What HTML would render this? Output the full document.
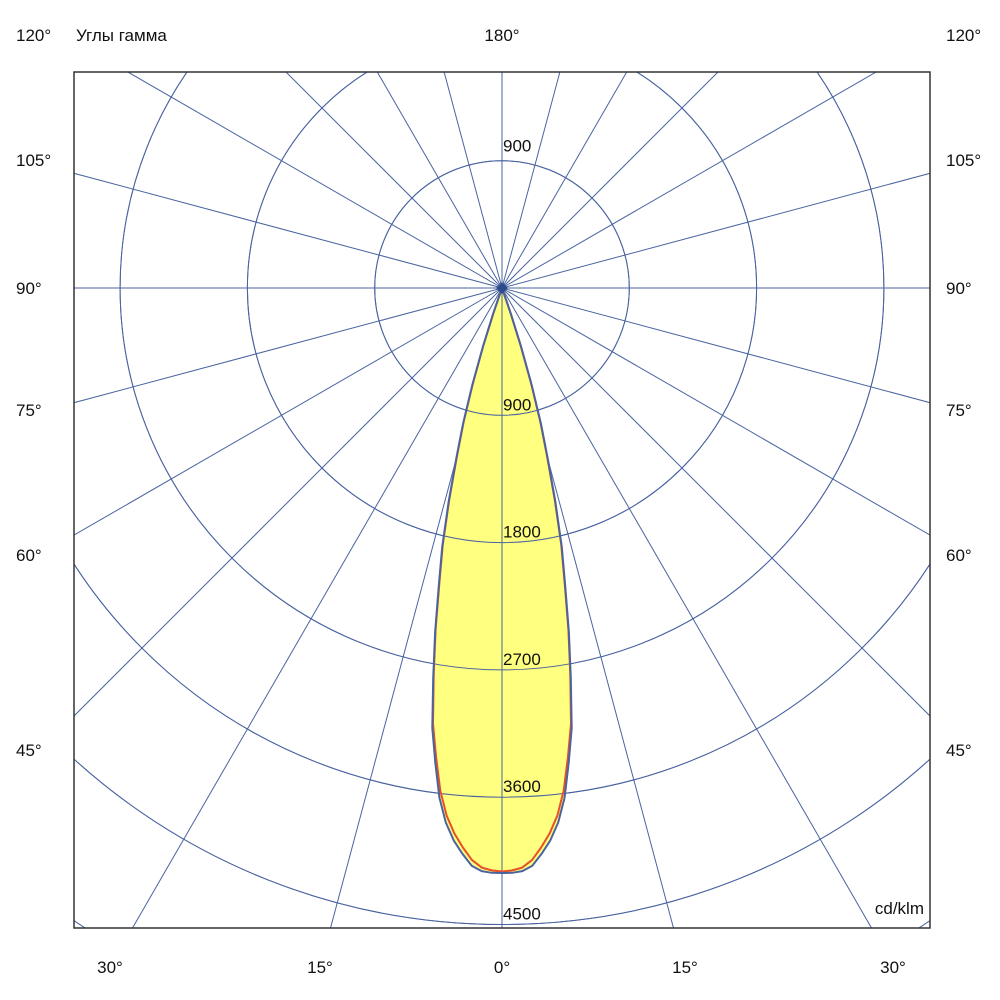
<!DOCTYPE html>
<html><head><meta charset="utf-8"><style>
html,body{margin:0;padding:0;background:#fff;width:1000px;height:1000px;overflow:hidden;}
svg{display:block;font-family:"Liberation Sans","Noto Sans CJK SC",sans-serif;}
</style></head><body>
<svg id="chart" width="1000" height="1000" viewBox="0 0 1000 1000">
<defs><clipPath id="box"><rect x="74" y="72" width="856" height="856"/></clipPath></defs>
<g id="grid" clip-path="url(#box)"></g>
<g id="series" clip-path="url(#box)"></g>
<rect x="74" y="72" width="856" height="856" fill="none" stroke="#333" stroke-width="1.5"/>
<g id="labels" font-size="17" fill="#111"></g>
</svg>
<script>
const ringValues = [900, 1800, 2700, 3600, 4500, 5400, 6300];
const ringLabels = ["900", "1800", "2700", "3600", "4500"];
const spokeAngles = [0,15,30,45,60,75,90,105,120,135,150,165,180,195,210,225,240,255,270,285,300,315,330,345];
const gammaAngles = [0, 1, 2, 3, 4, 5, 6, 7, 8, 9, 10, 11, 12, 13, 14, 15, 16, 17, 18, 19, 20];
const blueValues = [4136, 4135, 4125, 4090, 4010, 3920, 3800, 3630, 3390, 3150, 2800, 2480, 2150, 1880, 1560, 1250, 1000, 720, 440, 190, 0];
const redValues  = [4125, 4118, 4100, 4050, 3965, 3870, 3750, 3580, 3350, 3120, 2780, 2460, 2130, 1860, 1540, 1230, 980, 700, 425, 180, 0];
const leftLabels = [["120°",35],["105°",160],["90°",288],["75°",410],["60°",555],["45°",750]];
const bottomLabels = [["30°",110],["15°",320],["0°",502],["15°",685],["30°",893]];

const NS="http://www.w3.org/2000/svg";
const cx=502, cy=288, pxPer=127.3/900;
const rScale=v=>v*pxPer;
function mk(tag,attrs,parent){const e=document.createElementNS(NS,tag);for(const k in attrs)e.setAttribute(k,attrs[k]);parent.appendChild(e);return e;}
const grid=document.getElementById('grid'), series=document.getElementById('series'), labels=document.getElementById('labels');
const gridColor="#4a64a0";
ringValues.forEach((v,i)=>{
  const c=mk('circle',{cx:cx,cy:cy,r:rScale(v),fill:'none',stroke:gridColor,'stroke-width':1},grid);
  
  
});
spokeAngles.forEach(a=>{
  const t=a*Math.PI/180;
  const l=mk('line',{x1:cx,y1:cy,x2:cx+1200*Math.sin(t),y2:cy+1200*Math.cos(t),stroke:gridColor,'stroke-width':1},grid);
  
  
});
function pathFor(vals){
  const pts=[];
  for(let i=gammaAngles.length-1;i>=0;i--){const t=-gammaAngles[i]*Math.PI/180,r=rScale(vals[i]);pts.push([cx+r*Math.sin(t),cy+r*Math.cos(t)]);}
  for(let i=1;i<gammaAngles.length;i++){const t=gammaAngles[i]*Math.PI/180,r=rScale(vals[i]);pts.push([cx+r*Math.sin(t),cy+r*Math.cos(t)]);}
  return 'M'+pts.map(p=>p[0].toFixed(1)+','+p[1].toFixed(1)).join('L')+'Z';
}
const fill=mk('path',{d:pathFor(blueValues),fill:'#ffff80',stroke:'none'},series);


const cl=mk('line',{x1:cx,y1:cy,x2:cx,y2:928,stroke:gridColor,'stroke-width':1},series);


ringValues.slice(0,5).forEach(v=>{
  const a=mk('circle',{cx:cx,cy:cy,r:rScale(v),fill:'none',stroke:gridColor,'stroke-width':1},series);
  
  
});
const red=mk('path',{d:pathFor(redValues),fill:'none',stroke:'#e8502a','stroke-width':2,'stroke-linejoin':'round'},series);


const blue=mk('path',{d:pathFor(blueValues),fill:'none',stroke:'#4a64a0','stroke-width':2,'stroke-linejoin':'round'},series);


const dia=mk('path',{d:`M${cx-6},${cy}L${cx},${cy-6}L${cx+6},${cy}L${cx},${cy+6}Z`,fill:'#2f4a8a'},series);


ringLabels.forEach((s,i)=>{
  const r=rScale(ringValues[i]);
  const t=mk('text',{x:503,y:cy+r-5,'font-size':17},labels);t.textContent=s;
  
  
});
const top900=mk('text',{x:503,y:cy-rScale(900)-9,'font-size':17},labels);top900.textContent="900";


leftLabels.forEach(([s,y])=>{
  const a=mk('text',{x:16,y:y+6},labels);a.textContent=s;
  
  
  const b=mk('text',{x:946,y:y+6},labels);b.textContent=s;
  
  
});
bottomLabels.forEach(([s,x])=>{
  const t=mk('text',{x:x,y:973,'text-anchor':'middle'},labels);t.textContent=s;
  
  
});
const title=mk('text',{x:76,y:41},labels);title.textContent="Углы гамма";


const t180=mk('text',{x:502,y:41,'text-anchor':'middle'},labels);t180.textContent="180°";


const unit=mk('text',{x:924,y:914,'text-anchor':'end'},labels);unit.textContent="cd/klm";


</script>
</body></html>
